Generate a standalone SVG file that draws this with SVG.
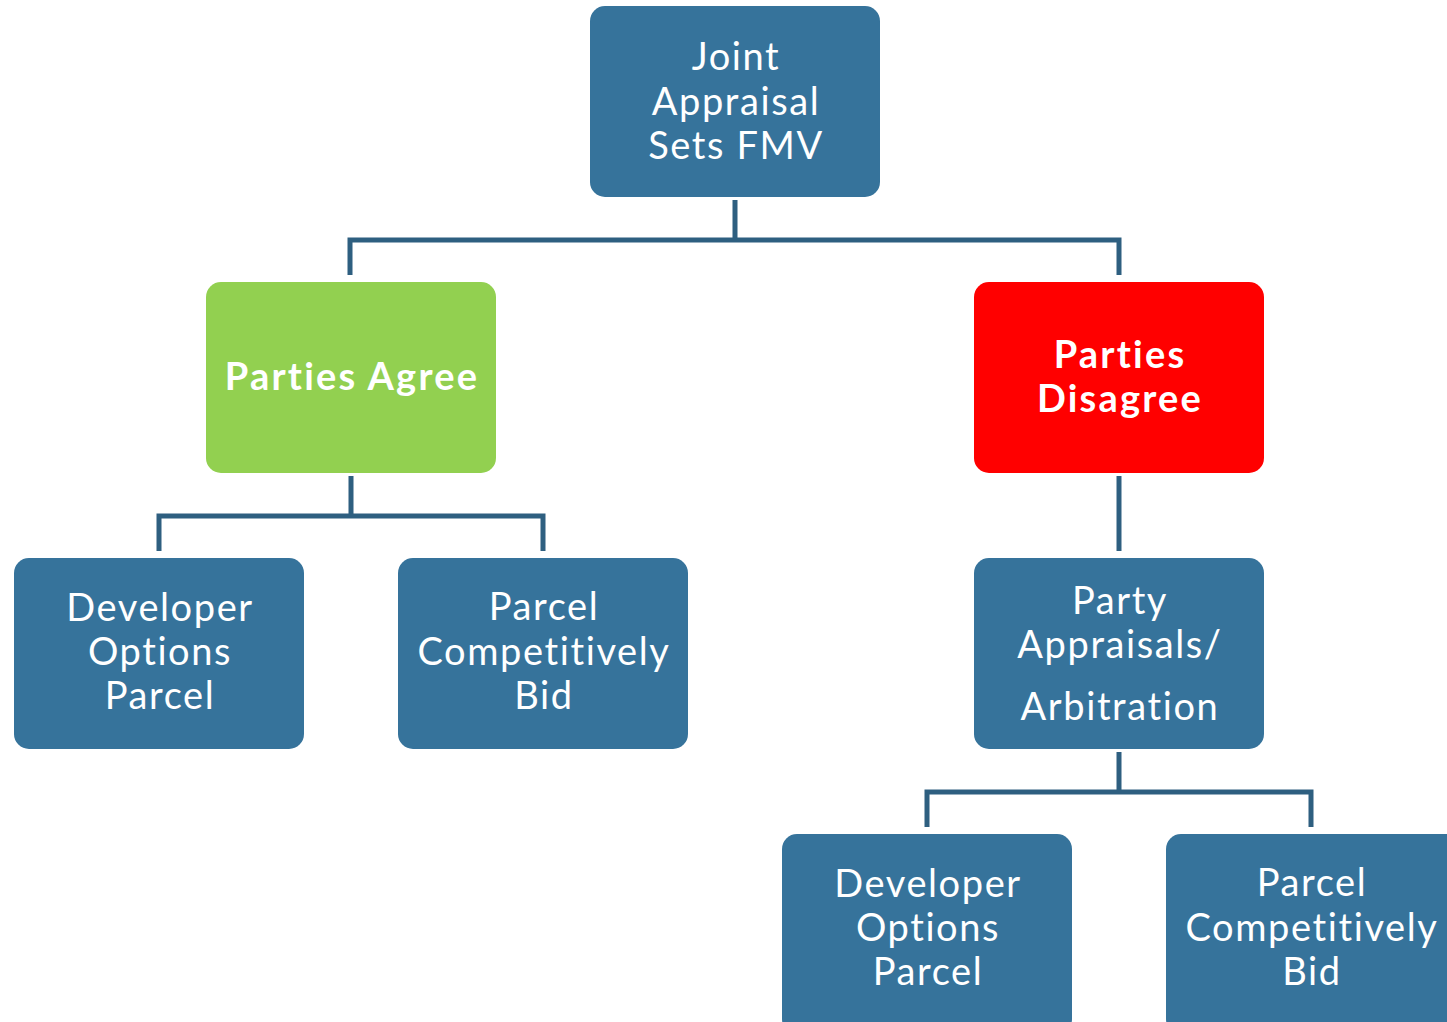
<svg xmlns="http://www.w3.org/2000/svg" width="1447" height="1022" viewBox="0 0 1447 1022">
<style>
.box{fill:#36739B;}
.t{font-family:"Lato","Open Sans","Liberation Sans",sans-serif;font-size:38px;fill:#ffffff;text-anchor:middle;letter-spacing:1.6px;}
.b{font-weight:bold;letter-spacing:2.2px;}
.c{fill:none;stroke:#2E5F80;stroke-width:5;}
</style>
<rect width="1447" height="1022" fill="#ffffff"/>
<g id="connectors">
<path class="c" d="M735,200 V240 M350,275 V240 H1119 V275"/>
<path class="c" d="M351,476 V516 M159,551 V516 H543 V551"/>
<path class="c" d="M1119,476 V551"/>
<path class="c" d="M1119,752 V792 M927,827 V792 H1311 V827"/>
</g>
<g id="n-joint">
<rect class="box" x="590" y="6" width="290" height="191" rx="15"/>
<text class="t" x="736" y="70">Joint</text>
<text class="t" x="736" y="115">Appraisal</text>
<text class="t" x="736" y="159">Sets FMV</text>
</g>
<g id="n-agree">
<rect x="206" y="282" width="290" height="191" rx="15" fill="#92D050"/>
<text class="t b" x="352" y="390">Parties Agree</text>
</g>
<g id="n-disagree">
<rect x="974" y="282" width="290" height="191" rx="15" fill="#FF0000"/>
<text class="t b" x="1120" y="368">Parties</text>
<text class="t b" x="1120" y="412">Disagree</text>
</g>
<g id="n-dev1">
<rect class="box" x="14" y="558" width="290" height="191" rx="15"/>
<text class="t" x="160" y="621">Developer</text>
<text class="t" x="160" y="665">Options</text>
<text class="t" x="160" y="709">Parcel</text>
</g>
<g id="n-bid1">
<rect class="box" x="398" y="558" width="290" height="191" rx="15"/>
<text class="t" x="544" y="620">Parcel</text>
<text class="t" x="544" y="665">Competitively</text>
<text class="t" x="544" y="709">Bid</text>
</g>
<g id="n-arb">
<rect class="box" x="974" y="558" width="290" height="191" rx="15"/>
<text class="t" x="1120" y="614">Party</text>
<text class="t" x="1120" y="658">Appraisals/</text>
<text class="t" x="1120" y="720">Arbitration</text>
</g>
<g id="n-dev2">
<rect class="box" x="782" y="834" width="290" height="200" rx="15"/>
<text class="t" x="928" y="897">Developer</text>
<text class="t" x="928" y="941">Options</text>
<text class="t" x="928" y="985">Parcel</text>
</g>
<g id="n-bid2">
<rect class="box" x="1166" y="834" width="300" height="200" rx="15"/>
<text class="t" x="1312" y="896">Parcel</text>
<text class="t" x="1312" y="941">Competitively</text>
<text class="t" x="1312" y="985">Bid</text>
</g>
</svg>
